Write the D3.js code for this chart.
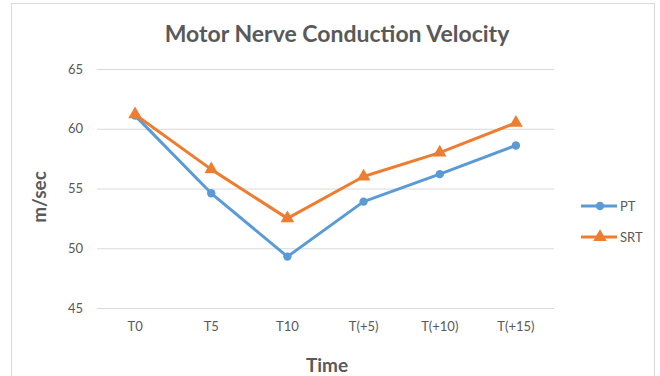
<!DOCTYPE html>
<html>
<head>
<meta charset="utf-8">
<script src="https://cdn.jsdelivr.net/npm/d3@7"></script>
<style>
  body { margin: 0; background: #fff; }
  svg { display: block; font-family: Lato, "Open Sans", sans-serif; }
</style>
</head>
<body>
<svg id="drawing_region"></svg>
<script>
const categories = ["T0", "T5", "T10", "T(+5)", "T(+10)", "T(+15)"];
const pt_values = [61.1, 54.6, 49.3, 53.9, 56.2, 58.6];
const srt_values = [61.2, 56.6, 52.5, 56.0, 58.0, 60.5];
const y_ticks = [45, 50, 55, 60, 65];

const series = [
    { name: "PT", values: pt_values, color: "#5b9bd5", marker: d3.symbolCircle, size: 55 },
    { name: "SRT", values: srt_values, color: "#ed7d31", marker: d3.symbolTriangle, size: 80 }
];

const width = 660, height = 376;
const margin = { top: 69, left: 97, right: 106, bottom: 68 };

const svg = d3.select("#drawing_region")
    .attr("width", width)
    .attr("height", height);

// chart border
svg.append("rect")
    .attr("x", 11.5).attr("y", 3.5)
    .attr("width", 643).attr("height", 400)
    .attr("fill", "none")
    .attr("stroke", "#d9d9d9");

const xscale = d3.scaleBand()
    .domain(categories)
    .range([margin.left, width - margin.right]);

const yscale = d3.scaleLinear()
    .domain([45, 65])
    .range([height - margin.bottom, margin.top]);

// gridlines
const yaxis = d3.axisLeft(yscale)
    .tickValues(y_ticks)
    .tickSize(-(width - margin.left - margin.right))
    .tickPadding(14);

const yaxis_group = svg.append("g")
    .attr("transform", `translate(${margin.left}, 0)`)
    .call(yaxis);
yaxis_group.select(".domain").remove();
yaxis_group.selectAll("line").attr("stroke", "#d9d9d9");
yaxis_group.selectAll("text")
    .attr("fill", "#595959")
    .attr("font-size", 13)
    .attr("font-family", "Lato, sans-serif");

const xaxis = d3.axisBottom(xscale)
    .tickSize(0)
    .tickPadding(14);

const xaxis_group = svg.append("g")
    .attr("transform", `translate(0, ${height - margin.bottom})`)
    .call(xaxis);
xaxis_group.select(".domain").remove();
xaxis_group.selectAll("text")
    .attr("fill", "#595959")
    .attr("font-size", 13)
    .attr("font-family", "Lato, sans-serif");

// lines
const line = d3.line()
    .x((d, i) => xscale(categories[i]) + xscale.bandwidth() / 2)
    .y(d => yscale(d));

series.forEach(s => {
    svg.append("path")
        .datum(s.values)
        .attr("fill", "none")
        .attr("stroke", s.color)
        .attr("stroke-width", 3)
        .attr("stroke-linejoin", "round")
        .attr("d", line);

    svg.selectAll(null)
        .data(s.values)
        .enter()
        .append("path")
        .attr("d", d3.symbol().type(s.marker).size(s.size))
        .attr("fill", s.color)
        .attr("transform", (d, i) =>
            `translate(${xscale(categories[i]) + xscale.bandwidth() / 2}, ${yscale(d)})`);
});

// legend
const legend = svg.append("g")
    .attr("transform", "translate(581, 206)");
series.forEach((s, i) => {
    const g = legend.append("g").attr("transform", `translate(0, ${i * 31})`);
    g.append("line")
        .attr("x1", 0).attr("x2", 36)
        .attr("stroke", s.color)
        .attr("stroke-width", 3);
    g.append("path")
        .attr("d", d3.symbol().type(s.marker).size(s.size))
        .attr("fill", s.color)
        .attr("transform", "translate(19, 0)");
    g.append("text")
        .attr("x", 39).attr("y", 5)
        .attr("font-size", 13)
        .attr("fill", "#595959")
        .text(s.name);
});

// titles
svg.append("text")
    .attr("x", 337).attr("y", 42)
    .attr("text-anchor", "middle")
    .attr("font-size", 23)
    .attr("font-weight", "bold")
    .attr("fill", "#595959")
    .text("Motor Nerve Conduction Velocity");

svg.append("text")
    .attr("x", 327).attr("y", 372)
    .attr("text-anchor", "middle")
    .attr("font-size", 19)
    .attr("font-weight", "bold")
    .attr("fill", "#595959")
    .text("Time");

svg.append("text")
    .attr("transform", "translate(46, 197) rotate(-90)")
    .attr("text-anchor", "middle")
    .attr("font-size", 19)
    .attr("font-weight", "bold")
    .attr("fill", "#595959")
    .text("m/sec");
</script>
</body>
</html>
